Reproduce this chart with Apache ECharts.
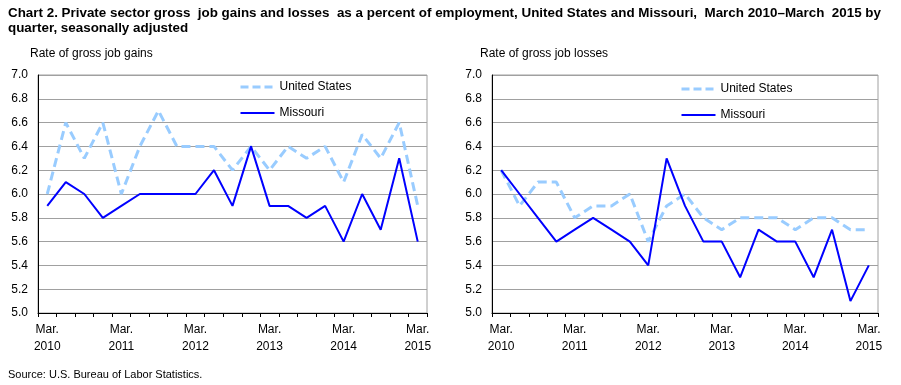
<!DOCTYPE html>
<html><head><meta charset="utf-8">
<script src="https://cdn.jsdelivr.net/npm/echarts@6/dist/echarts.min.js"></script>
<style>html,body{margin:0;padding:0;background:#fff}#c{width:901px;height:385px}</style>
</head><body><div id="c"></div>
<script>
const quarters = ["Mar. 2010","Jun. 2010","Sep. 2010","Dec. 2010","Mar. 2011","Jun. 2011","Sep. 2011","Dec. 2011","Mar. 2012","Jun. 2012","Sep. 2012","Dec. 2012","Mar. 2013","Jun. 2013","Sep. 2013","Dec. 2013","Mar. 2014","Jun. 2014","Sep. 2014","Dec. 2014","Mar. 2015"];
const gainsUS = [6.0,6.6,6.3,6.6,6.0,6.4,6.7,6.4,6.4,6.4,6.2,6.4,6.2,6.4,6.3,6.4,6.1,6.5,6.3,6.6,5.9];
const gainsMO = [5.9,6.1,6.0,5.8,5.9,6.0,6.0,6.0,6.0,6.2,5.9,6.4,5.9,5.9,5.8,5.9,5.6,6.0,5.7,6.3,5.6];
const lossesUS = [6.2,5.9,6.1,6.1,5.8,5.9,5.9,6.0,5.6,5.9,6.0,5.8,5.7,5.8,5.8,5.8,5.7,5.8,5.8,5.7,5.7];
const lossesMO = [6.2,6.0,5.8,5.6,5.7,5.8,5.7,5.6,5.4,6.3,5.9,5.6,5.6,5.3,5.7,5.6,5.6,5.3,5.7,5.1,5.4];
const seriesNames = ["United States","Missouri"];
const yTitles = ["Rate of gross job gains","Rate of gross job losses"];

const F = "Liberation Sans, Arial, sans-serif";
const usColor = "#99CCFF", moColor = "#0000FF";
const chart = echarts.init(document.getElementById('c'), null, {renderer:'canvas'});

function xAxis(idx){
  return {type:'category', gridIndex:idx, data:quarters, boundaryGap:true,
    axisLine:{lineStyle:{color:'#000',width:1}},
    axisTick:{show:true, interval:0, length:4, lineStyle:{color:'#000'}},
    axisLabel:{interval:3, color:'#000', fontFamily:F, fontSize:12, lineHeight:17, margin:8,
      formatter:v=>v.replace(' ','\n')},
    splitLine:{show:false}};
}
function yAxis(idx){
  return {type:'value', gridIndex:idx, min:5, max:7, interval:0.2,
    axisLine:{show:true, lineStyle:{color:'#000'}},
    axisTick:{show:false},
    axisLabel:{color:'#000', fontFamily:F, fontSize:12, margin:10, formatter:v=>v.toFixed(1)},
    splitLine:{show:true, lineStyle:{color:'#A0A0A0', width:1}}};
}
function ser(name, data, idx){
  const us = name===seriesNames[0];
  return {name, type:'line', xAxisIndex:idx, yAxisIndex:idx, data,
    symbol:'circle', showSymbol:false, smooth:false,
    lineStyle: us ? {color:usColor, width:3, type:[9,5]} : {color:moColor, width:2},
    itemStyle:{color: us?usColor:moColor}, animation:false};
}
function makeLegend(posLeft, posTop){
  return {orient:'vertical', left:posLeft, top:posTop, itemWidth:34, itemHeight:10, itemGap:14, selectedMode:false,
    itemStyle:{opacity:0},
    data:[{name:seriesNames[0], lineStyle:{width:3, type:[8,4], color:usColor}},
          {name:seriesNames[1], lineStyle:{width:2, color:moColor}}],
    textStyle:{fontFamily:F, fontSize:12, color:'#000'}};
}

chart.setOption({
  animation:false,
  title:[
    {text:'Chart 2. Private sector gross  job gains and losses  as a percent of employment, United States and Missouri,  March 2010\u2013March  2015 by\nquarter, seasonally adjusted',
     left:3, top:1, textStyle:{fontFamily:F, fontWeight:'bold', fontSize:13.4, lineHeight:15, color:'#000'}},
    {text:yTitles[0], left:25, top:43, textStyle:{fontFamily:F, fontWeight:'normal', fontSize:12, color:'#000'}},
    {text:yTitles[1], left:475, top:43, textStyle:{fontFamily:F, fontWeight:'normal', fontSize:12, color:'#000'}},
    {text:'Source: U.S. Bureau of Labor Statistics.', left:3, top:364, textStyle:{fontFamily:F, fontWeight:'normal', fontSize:11, color:'#000'}}
  ],
  grid:[
    {left:38, right:474, top:75, bottom:72, show:true, borderColor:'#A0A0A0', borderWidth:1},
    {left:492, right:23, top:75, bottom:72, show:true, borderColor:'#A0A0A0', borderWidth:1}
  ],
  xAxis:[xAxis(0), xAxis(1)],
  yAxis:[yAxis(0), yAxis(1)],
  legend:[makeLegend(234, 76), makeLegend(675, 78)],
  series:[ser(seriesNames[0], gainsUS, 0), ser(seriesNames[1], gainsMO, 0),
          ser(seriesNames[0], lossesUS, 1), ser(seriesNames[1], lossesMO, 1)]
});
</script></body></html>
